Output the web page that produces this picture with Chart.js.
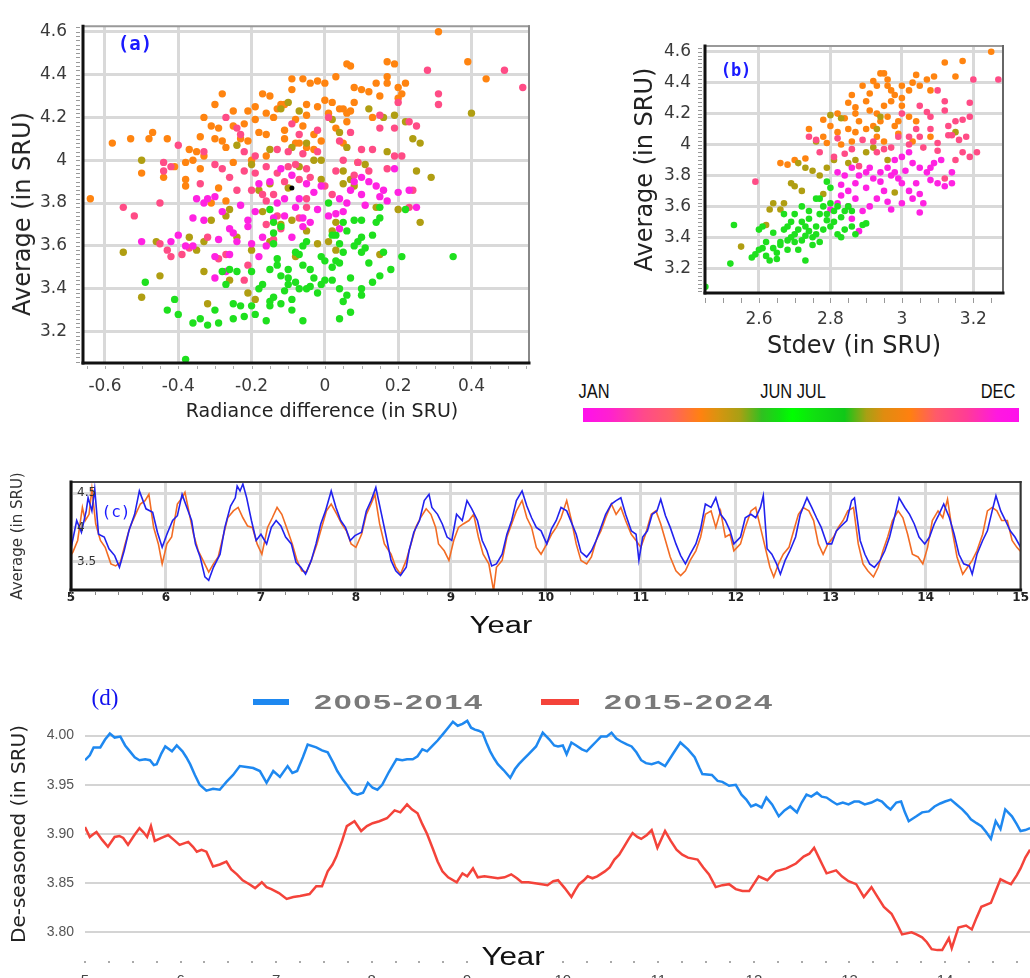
<!DOCTYPE html>
<html>
<head>
<meta charset="utf-8">
<script src="https://cdn.jsdelivr.net/npm/chart.js@4.4.1/dist/chart.umd.min.js"></script>
<style>
  body { margin: 0; background: #fff; width: 1030px; height: 978px; position: relative; overflow: hidden; }
  canvas { position: absolute; }
  .t { position: absolute; white-space: nowrap; line-height: 1; transform: translate(-50%, -50%); }
  .lab { position: absolute; white-space: nowrap; line-height: 1; }
</style>
</head>
<body>
<canvas id="chartA" width="540" height="430" style="left:0;top:0"></canvas>
<canvas id="chartB" width="470" height="365" style="left:560px;top:0"></canvas>
<canvas id="chartC" width="1030" height="185" style="left:0;top:455px"></canvas>
<canvas id="chartD" width="1030" height="318" style="left:0;top:660px"></canvas>

<!-- panel labels, titles, colour bar, legend -->
<div class="t" style="left:135px;top:43px;font:600 19px 'DejaVu Sans Mono';color:#1a1aff">(a)</div>
<div class="t" style="left:736px;top:70px;font:600 17px 'DejaVu Sans Mono';color:#1a1aff">(b)</div>
<div class="t" style="left:116px;top:511px;font:16px 'DejaVu Sans Mono';color:#1a1aff">(c)</div>
<div class="t" style="left:105px;top:698px;font:23px 'Liberation Serif';color:#1111ee">(d)</div>

<div class="t" style="left:22px;top:214px;font:24px 'DejaVu Sans';color:#222;transform:translate(-50%,-50%) rotate(-90deg)">Average (in SRU)</div>
<div class="t" style="left:322px;top:410px;font:19px 'DejaVu Sans';color:#222">Radiance difference (in SRU)</div>

<div class="t" style="left:594px;top:391px;font:20px 'Liberation Sans';color:#111;transform:translate(-50%,-50%) scaleX(0.82)">JAN</div>
<div class="t" style="left:793px;top:391px;font:20px 'Liberation Sans';color:#111;transform:translate(-50%,-50%) scaleX(0.82)">JUN JUL</div>
<div class="t" style="left:998px;top:391px;font:20px 'Liberation Sans';color:#111;transform:translate(-50%,-50%) scaleX(0.82)">DEC</div>
<div style="position:absolute;left:583px;top:408px;width:436px;height:14px;background:linear-gradient(to right,#ff10ec 0%,#ff20d0 6%,#ff4a8a 14%,#ff5f66 20%,#ff8210 27%,#d89410 31%,#a8a014 36%,#30c020 41%,#10e010 45%,#00ff00 48%,#10e010 53%,#10c818 60%,#a8a014 65%,#e08c10 69%,#ff8010 75%,#ff5a6a 81%,#ff3c96 88%,#ff18e0 95%,#ff10ec 100%)"></div>

<div class="t" style="left:501px;top:625px;font:23px 'Liberation Sans';color:#111;transform:translate(-50%,-50%) scaleX(1.35)">Year</div>
<div class="t" style="left:513px;top:956px;font:25px 'Liberation Sans';color:#111;transform:translate(-50%,-50%) scaleX(1.25)">Year</div>

<div style="position:absolute;left:253px;top:699px;width:36px;height:6px;background:#1e88f0"></div>
<div class="lab" style="left:314px;top:691px;font:bold 20px 'Liberation Sans';letter-spacing:1px;color:#7a7a7a;transform-origin:0 50%;transform:scaleX(1.62)">2005-2014</div>
<div style="position:absolute;left:541px;top:699px;width:38px;height:6px;background:#f4433a"></div>
<div class="lab" style="left:604px;top:691px;font:bold 20px 'Liberation Sans';letter-spacing:1px;color:#7a7a7a;transform-origin:0 50%;transform:scaleX(1.62)">2015-2024</div>

<script>
// ---- data ----
// (a) average vs radiance difference, one list per month colour group
const aOrange = [[0.31,4.60],[0.17,4.46],[0.19,4.45],[0.39,4.46],[0.44,4.38],[0.06,4.45],[0.07,4.44],[0.03,4.39],[-0.09,4.38],[-0.06,4.38],[-0.04,4.36],[-0.02,4.37],[0.17,4.39],[0.17,4.36],[0.22,4.36],[0.20,4.34],[0.08,4.34],[0.12,4.32],[0.15,4.30],[0.20,4.29],[-0.17,4.31],[-0.15,4.30],[-0.28,4.31],[0.00,4.28],[0.02,4.27],[0.04,4.24],[0.01,4.22],[-0.02,4.25],[-0.05,4.26],[-0.11,4.26],[-0.13,4.24],[-0.21,4.23],[-0.25,4.23],[-0.30,4.26],[-0.33,4.20],[-0.29,4.15],[-0.31,4.16],[-0.19,4.19],[-0.14,4.20],[-0.08,4.19],[-0.05,4.21],[0.05,4.24],[0.06,4.18],[0.07,4.23],[0.13,4.20],[-0.34,4.11],[-0.30,4.10],[-0.28,4.09],[-0.23,4.10],[-0.21,4.09],[-0.16,4.12],[-0.11,4.10],[-0.08,4.08],[-0.05,4.06],[-0.03,4.05],[0.05,4.08],[-0.58,4.08],[-0.53,4.10],[-0.48,4.10],[-0.47,4.13],[-0.43,4.10],[-0.35,4.04],[-0.33,4.02],[-0.36,4.00],[-0.38,3.99],[-0.41,3.97],[-0.44,3.92],[-0.38,3.88],[-0.38,3.91],[-0.50,3.94],[-0.34,3.96],[-0.25,3.99],[-0.20,4.00],[-0.16,4.02],[-0.29,3.87],[-0.27,3.81],[-0.64,3.82],[-0.11,4.14],[-0.07,4.08],[0.03,4.15],[0.10,4.33],[-0.03,4.12],[-0.31,3.80],[0.09,3.99],[0.06,4.22],[-0.12,4.26],[-0.19,4.25],[-0.25,4.16],[-0.22,4.17],[-0.18,4.13],[-0.06,4.16],[-0.01,4.09],[0.08,4.27],[0.14,4.36],[0.21,4.31],[-0.37,4.05],[-0.27,4.06],[-0.09,4.33],[0.00,4.36],[-0.16,4.22]];
const aPink = [[0.28,4.42],[0.49,4.42],[0.31,4.26],[0.31,4.31],[0.54,4.34],[0.20,4.27],[0.23,4.18],[0.25,4.16],[0.19,4.15],[0.15,4.21],[0.13,4.05],[0.19,4.02],[0.21,4.02],[0.17,3.96],[0.09,3.99],[0.05,4.00],[0.07,4.13],[0.01,4.20],[-0.02,4.14],[-0.07,4.12],[-0.10,4.04],[-0.13,4.05],[-0.19,4.02],[-0.22,4.04],[-0.24,4.15],[-0.27,4.20],[-0.23,4.12],[-0.40,4.07],[-0.44,3.99],[-0.44,3.95],[-0.45,3.80],[-0.42,3.97],[-0.33,4.04],[-0.30,3.98],[-0.28,3.96],[-0.22,3.95],[-0.19,3.94],[-0.13,3.94],[-0.10,3.97],[-0.08,3.98],[-0.05,3.96],[-0.04,3.92],[-0.07,3.91],[-0.11,3.90],[-0.20,3.86],[-0.14,3.84],[-0.16,3.81],[-0.17,3.84],[-0.24,3.86],[-0.05,3.82],[0.00,3.88],[0.02,3.84],[-0.55,3.78],[-0.52,3.74],[-0.45,3.61],[-0.43,3.58],[-0.42,3.55],[-0.39,3.56],[-0.37,3.59],[-0.32,3.64],[-0.29,3.54],[-0.27,3.56],[-0.21,3.51],[-0.22,3.44],[-0.13,3.74],[-0.16,3.70],[-0.07,3.73],[-0.05,3.78],[0.24,3.86],[0.23,3.78],[-0.12,3.68],[-0.14,3.63],[0.03,3.95],[0.08,3.93],[0.12,3.95],[-0.26,3.92],[-0.16,3.97],[-0.02,4.04],[0.04,4.09],[0.10,4.05],[-0.34,3.89],[-0.09,4.17],[-0.06,4.03],[0.15,4.15]];
const aMagenta = [[-0.50,3.62],[-0.42,3.62],[-0.38,3.60],[-0.36,3.60],[-0.35,3.82],[-0.32,3.82],[-0.30,3.83],[-0.33,3.80],[-0.28,3.76],[-0.26,3.68],[-0.29,3.63],[-0.26,3.56],[-0.30,3.55],[-0.30,3.45],[-0.24,3.62],[-0.21,3.69],[-0.21,3.72],[-0.20,3.61],[-0.17,3.64],[-0.14,3.73],[-0.13,3.80],[-0.11,3.82],[-0.08,3.78],[-0.07,3.82],[-0.02,3.77],[-0.04,3.71],[-0.06,3.73],[-0.01,3.88],[0.04,3.82],[0.05,3.76],[0.06,3.80],[0.03,3.75],[0.01,3.74],[0.10,3.92],[0.10,3.84],[0.12,3.90],[0.14,3.88],[0.15,3.83],[0.16,3.86],[0.17,3.81],[0.20,3.85],[0.19,3.96],[0.23,3.86],[0.25,3.78],[-0.18,3.89],[-0.15,3.90],[-0.12,3.96],[-0.09,3.93],[-0.05,3.89],[-0.09,3.64],[-0.06,3.69],[0.04,3.68],[-0.36,3.73],[-0.40,3.65],[-0.27,3.48],[-0.16,3.60],[0.08,3.90],[-0.23,3.79],[-0.19,3.76],[-0.11,3.74],[-0.03,3.85],[0.07,3.86],[-0.25,3.66],[-0.33,3.72],[0.11,3.79],[-0.18,3.55]];
const aOlive = [[0.40,4.22],[0.26,4.08],[0.24,4.10],[0.22,4.18],[0.17,4.04],[0.16,4.20],[0.11,3.98],[0.06,4.06],[0.04,4.13],[0.02,4.19],[-0.01,4.00],[-0.03,4.00],[-0.07,4.23],[-0.10,4.27],[-0.12,4.24],[-0.09,4.06],[-0.05,4.08],[-0.24,4.07],[-0.20,3.98],[-0.15,4.05],[-0.50,4.00],[-0.46,3.62],[-0.55,3.57],[-0.50,3.36],[-0.45,3.46],[-0.37,3.64],[-0.35,3.58],[-0.33,3.62],[-0.31,3.72],[-0.33,3.48],[-0.32,3.33],[-0.26,3.44],[-0.24,3.64],[-0.26,3.77],[-0.27,3.74],[-0.21,3.38],[-0.20,3.58],[-0.15,3.62],[-0.17,3.76],[-0.12,3.70],[-0.09,3.72],[-0.10,3.87],[-0.15,3.89],[-0.05,3.67],[0.02,3.67],[0.01,3.62],[0.03,3.58],[-0.01,3.91],[0.05,3.89],[0.07,3.91],[0.08,3.88],[0.05,3.95],[0.15,3.56],[0.14,3.78],[0.20,3.77],[0.25,3.95],[0.29,3.92],[0.26,3.71],[0.19,4.21],[-0.08,3.55],[-0.18,3.86],[-0.07,3.97],[0.12,4.24],[-0.02,3.61],[0.03,3.71],[-0.19,3.35]];
const aGreen = [[-0.38,3.07],[-0.36,3.24],[-0.34,3.26],[-0.32,3.23],[-0.29,3.24],[-0.25,3.26],[-0.22,3.27],[-0.16,3.25],[-0.09,3.30],[-0.06,3.25],[0.04,3.26],[-0.40,3.28],[-0.43,3.30],[-0.41,3.35],[-0.49,3.43],[-0.25,3.33],[-0.23,3.32],[-0.20,3.32],[-0.15,3.32],[-0.15,3.34],[-0.14,3.36],[-0.12,3.33],[-0.09,3.35],[-0.07,3.40],[-0.08,3.43],[-0.05,3.40],[-0.04,3.41],[-0.01,3.42],[0.00,3.44],[0.02,3.44],[0.04,3.40],[0.06,3.37],[0.05,3.34],[0.10,3.40],[0.10,3.37],[0.13,3.43],[0.15,3.46],[0.18,3.49],[0.21,3.55],[0.35,3.55],[-0.27,3.42],[-0.28,3.48],[-0.26,3.49],[-0.24,3.48],[-0.20,3.48],[-0.17,3.42],[-0.15,3.49],[-0.13,3.51],[-0.12,3.46],[-0.10,3.45],[-0.10,3.49],[-0.06,3.51],[-0.04,3.49],[-0.03,3.45],[0.02,3.50],[0.03,3.53],[-0.01,3.55],[0.00,3.53],[0.04,3.52],[0.05,3.57],[0.10,3.57],[0.11,3.59],[0.13,3.65],[0.10,3.64],[0.09,3.62],[0.04,3.61],[0.03,3.65],[0.06,3.67],[0.05,3.71],[0.08,3.72],[0.14,3.71],[0.15,3.73],[0.15,3.78],[0.10,3.72],[0.22,3.77],[-0.14,3.66],[-0.12,3.69],[-0.14,3.71],[-0.15,3.77],[-0.14,3.61],[-0.13,3.54],[-0.08,3.57],[-0.06,3.60],[-0.05,3.62],[0.01,3.80],[0.02,3.65],[-0.10,3.42],[0.16,3.57],[-0.18,3.40],[-0.11,3.39],[-0.02,3.38],[0.07,3.45],[0.12,3.52],[-0.30,3.30],[-0.19,3.28],[0.08,3.60],[0.07,3.29],[-0.07,3.56]];
const aBlack = [[-0.09,3.87]];

// (b) average vs stdev
const bOrange = [[3.25,4.60],[3.12,4.53],[3.17,4.54],[3.09,4.44],[3.15,4.44],[3.04,4.45],[3.07,4.42],[2.94,4.46],[2.95,4.46],[2.92,4.41],[2.93,4.38],[2.89,4.38],[2.96,4.38],[2.97,4.35],[2.98,4.32],[3.00,4.30],[3.02,4.35],[3.05,4.38],[3.08,4.35],[2.85,4.27],[2.87,4.24],[2.90,4.28],[2.91,4.22],[2.93,4.20],[2.95,4.25],[2.97,4.28],[3.00,4.25],[2.82,4.20],[2.84,4.17],[2.88,4.15],[2.92,4.12],[2.94,4.15],[2.96,4.18],[2.80,4.12],[2.82,4.08],[2.85,4.10],[2.87,4.08],[2.90,4.10],[2.93,4.05],[2.98,4.12],[3.04,4.15],[2.74,4.10],[2.78,4.05],[2.79,4.01],[2.83,4.00],[2.86,4.02],[2.66,3.88],[2.68,3.87],[2.70,3.90],[2.73,3.91],[3.03,4.02],[3.08,4.05],[2.99,4.07],[3.02,4.18],[2.95,4.02],[2.91,4.33],[2.96,4.42],[3.03,4.40],[2.87,4.20],[2.99,4.15],[2.78,4.16],[2.86,4.32],[3.00,4.38]];
const bPink = [[3.20,4.42],[3.27,4.42],[3.10,4.35],[3.12,4.28],[3.19,4.27],[3.12,4.22],[3.15,4.15],[3.17,4.16],[3.19,4.18],[3.05,4.25],[3.07,4.21],[3.04,4.10],[3.08,4.10],[3.13,4.06],[3.14,4.06],[3.16,4.03],[3.10,4.01],[3.00,4.20],[2.99,4.05],[3.02,4.00],[3.06,3.98],[2.89,4.03],[2.86,3.97],[2.84,3.94],[2.81,3.92],[2.77,3.95],[2.74,4.05],[2.76,4.03],[2.82,4.04],[3.17,3.95],[3.21,3.95],[3.19,3.92],[3.15,3.90],[2.59,3.76],[2.93,3.95],[2.97,3.98],[3.02,4.05],[2.88,3.86],[3.12,3.78],[3.13,4.12],[3.08,4.18],[3.05,4.05],[2.95,3.97],[3.10,3.96],[2.92,4.02],[3.18,4.05]];
const bMagenta = [[2.82,3.82],[2.84,3.80],[2.86,3.85],[2.88,3.80],[2.90,3.82],[2.92,3.78],[2.94,3.82],[2.96,3.85],[2.97,3.80],[2.99,3.78],[3.01,3.83],[3.03,3.88],[3.05,3.85],[3.07,3.82],[3.08,3.77],[3.10,3.75],[3.12,3.73],[3.14,3.75],[3.09,3.88],[3.11,3.90],[3.14,3.82],[3.00,3.92],[2.98,3.90],[2.95,3.70],[2.93,3.65],[2.91,3.60],[2.89,3.57],[2.87,3.65],[2.85,3.70],[2.83,3.67],[2.96,3.63],[2.97,3.58],[3.00,3.62],[3.02,3.70],[3.04,3.75],[3.05,3.68],[3.06,3.62],[3.05,3.56],[2.88,3.44],[2.86,3.52],[2.82,3.62],[2.80,3.58],[2.83,3.74],[2.87,3.75],[3.00,3.75],[3.02,3.95],[2.90,3.72],[2.94,3.76],[2.98,3.82],[3.03,3.65],[3.08,3.85],[2.85,3.60],[2.91,3.85]];
const bOlive = [[2.80,4.19],[2.83,4.17],[2.76,4.02],[2.71,3.88],[2.73,3.85],[2.69,3.75],[2.70,3.73],[2.67,3.62],[2.64,3.62],[2.63,3.58],[2.62,3.48],[2.55,3.34],[2.75,3.83],[2.77,3.80],[2.87,3.90],[2.90,3.95],[2.93,4.10],[2.96,3.90],[2.98,3.69],[3.15,4.08],[2.78,3.68],[2.85,3.88],[2.94,4.18],[2.92,3.98],[2.81,3.90],[2.79,3.85],[2.72,3.70],[2.66,3.58]];
const bGreen = [[2.45,3.08],[2.52,3.23],[2.53,3.48],[2.58,3.27],[2.59,3.29],[2.60,3.32],[2.60,3.45],[2.61,3.47],[2.62,3.28],[2.63,3.25],[2.64,3.33],[2.65,3.26],[2.66,3.35],[2.67,3.55],[2.67,3.45],[2.68,3.47],[2.69,3.40],[2.69,3.50],[2.70,3.42],[2.70,3.55],[2.71,3.32],[2.71,3.45],[2.72,3.38],[2.72,3.50],[2.73,3.41],[2.73,3.25],[2.74,3.44],[2.74,3.52],[2.75,3.40],[2.75,3.35],[2.76,3.47],[2.77,3.37],[2.78,3.45],[2.78,3.60],[2.79,3.55],[2.80,3.62],[2.80,3.72],[2.81,3.57],[2.81,3.50],[2.82,3.60],[2.82,3.42],[2.83,3.40],[2.84,3.45],[2.85,3.60],[2.86,3.47],[2.87,3.42],[2.89,3.48],[2.90,3.49],[2.77,3.65],[2.79,3.76],[2.76,3.65],[2.72,3.60],[2.64,3.43],[2.66,3.37],[2.68,3.32],[2.74,3.57],[2.83,3.53],[2.86,3.57],[2.79,3.51],[2.70,3.37],[2.73,3.47],[2.76,3.42],[2.68,3.38],[2.62,3.37],[2.77,3.55],[2.80,3.47],[2.84,3.57],[2.65,3.30],[2.61,3.33]];

// (c) average radiance by year, two decades
const cBlue = [[5.00,3.70],[5.02,3.83],[5.06,4.10],[5.11,3.93],[5.16,4.24],[5.18,4.43],[5.22,4.24],[5.25,4.56],[5.29,3.90],[5.35,3.86],[5.40,3.69],[5.46,3.59],[5.51,3.42],[5.56,3.66],[5.61,3.95],[5.67,4.19],[5.72,4.53],[5.79,4.27],[5.86,4.22],[5.91,3.93],[5.96,3.71],[6.01,3.90],[6.07,4.10],[6.12,4.17],[6.17,4.48],[6.22,4.29],[6.27,4.10],[6.31,3.76],[6.36,3.57],[6.41,3.28],[6.45,3.23],[6.50,3.42],[6.57,3.61],[6.62,4.00],[6.68,4.31],[6.73,4.43],[6.75,4.60],[6.78,4.53],[6.81,4.63],[6.85,4.43],[6.90,4.10],[6.95,3.81],[7.00,3.90],[7.06,3.76],[7.11,4.00],[7.16,4.10],[7.21,4.02],[7.26,3.86],[7.32,3.76],[7.37,3.49],[7.42,3.42],[7.47,3.32],[7.53,3.52],[7.58,3.76],[7.63,4.05],[7.68,4.24],[7.74,4.53],[7.79,4.29],[7.84,4.10],[7.89,4.00],[7.94,3.81],[7.99,3.88],[8.06,3.93],[8.11,4.24],[8.16,4.39],[8.21,4.58],[8.27,4.19],[8.32,3.86],[8.37,3.52],[8.42,3.37],[8.47,3.30],[8.53,3.42],[8.56,3.66],[8.61,3.93],[8.67,4.10],[8.72,4.39],[8.77,4.48],[8.80,4.29],[8.86,4.19],[8.91,4.05],[8.96,3.86],[9.01,3.81],[9.06,4.19],[9.12,4.10],[9.17,4.39],[9.22,4.27],[9.28,4.10],[9.33,3.81],[9.38,3.66],[9.43,3.44],[9.48,3.47],[9.54,3.61],[9.59,3.90],[9.64,4.10],[9.69,4.39],[9.75,4.53],[9.80,4.31],[9.85,4.14],[9.90,4.00],[9.95,3.95],[10.01,3.76],[10.06,3.98],[10.11,4.10],[10.16,4.29],[10.22,4.24],[10.27,4.07],[10.32,3.90],[10.37,3.64],[10.43,3.57],[10.48,3.66],[10.53,3.81],[10.58,4.00],[10.63,4.19],[10.69,4.34],[10.74,4.39],[10.79,4.43],[10.84,4.19],[10.90,3.95],[10.95,3.90],[10.98,3.52],[11.02,3.86],[11.07,3.95],[11.12,4.19],[11.17,4.24],[11.21,4.41],[11.26,4.17],[11.31,4.00],[11.37,3.76],[11.42,3.59],[11.47,3.47],[11.52,3.61],[11.58,3.76],[11.63,3.98],[11.68,4.34],[11.74,4.29],[11.79,4.43],[11.84,4.19],[11.89,4.10],[11.94,3.95],[11.98,3.76],[12.05,3.86],[12.10,4.14],[12.16,4.19],[12.21,4.14],[12.26,4.29],[12.29,4.46],[12.33,3.69],[12.38,3.61],[12.43,3.47],[12.47,3.32],[12.52,3.52],[12.57,3.66],[12.63,3.86],[12.68,4.19],[12.75,4.43],[12.80,4.29],[12.85,4.14],[12.90,4.00],[12.96,3.76],[13.01,3.76],[13.06,3.95],[13.11,4.02],[13.17,4.10],[13.22,4.39],[13.25,4.43],[13.31,3.81],[13.36,3.61],[13.41,3.47],[13.46,3.42],[13.52,3.52],[13.57,3.66],[13.62,3.86],[13.67,4.14],[13.72,4.43],[13.78,4.29],[13.83,4.19],[13.88,4.05],[13.93,3.86],[13.99,3.76],[14.04,3.86],[14.09,4.05],[14.14,4.19],[14.19,4.34],[14.25,4.14],[14.30,3.90],[14.35,3.61],[14.40,3.47],[14.46,3.44],[14.49,3.32],[14.54,3.61],[14.60,3.81],[14.65,3.95],[14.70,4.24],[14.74,4.46],[14.79,4.24],[14.84,4.10],[14.89,3.95],[14.94,3.86],[15.00,3.71]];
const cOrange = [[5.00,3.60],[5.02,3.64],[5.07,3.81],[5.12,4.29],[5.15,4.10],[5.19,4.19],[5.22,4.56],[5.26,4.05],[5.31,3.81],[5.36,3.71],[5.42,3.47],[5.47,3.44],[5.52,3.49],[5.57,3.76],[5.62,4.00],[5.68,4.19],[5.73,4.34],[5.78,4.39],[5.82,4.48],[5.87,4.00],[5.92,3.76],[5.96,3.47],[6.01,3.76],[6.06,3.86],[6.12,4.34],[6.17,4.43],[6.20,4.51],[6.24,4.24],[6.29,3.90],[6.34,3.66],[6.39,3.52],[6.45,3.35],[6.50,3.47],[6.55,3.57],[6.60,3.86],[6.65,4.14],[6.71,4.24],[6.76,4.29],[6.81,4.14],[6.86,4.02],[6.91,4.00],[6.96,3.76],[7.01,3.61],[7.07,4.00],[7.12,4.14],[7.17,4.29],[7.22,4.19],[7.27,4.00],[7.33,3.76],[7.38,3.52],[7.43,3.37],[7.48,3.35],[7.53,3.52],[7.59,3.76],[7.64,4.00],[7.69,4.24],[7.74,4.34],[7.80,4.19],[7.85,4.05],[7.90,3.95],[7.95,3.76],[8.00,3.71],[8.06,3.90],[8.11,4.19],[8.16,4.34],[8.20,4.48],[8.25,4.05],[8.30,3.76],[8.37,3.61],[8.42,3.42],[8.47,3.32],[8.53,3.52],[8.58,3.76],[8.63,4.00],[8.68,4.14],[8.74,4.27],[8.79,4.19],[8.84,4.00],[8.87,3.76],[8.93,3.66],[8.98,3.52],[9.03,3.81],[9.08,4.00],[9.13,4.05],[9.19,4.10],[9.24,4.19],[9.29,3.86],[9.34,3.61],[9.40,3.47],[9.45,3.08],[9.48,3.42],[9.54,3.52],[9.59,3.86],[9.64,4.05],[9.69,4.24],[9.75,4.39],[9.80,4.14],[9.85,4.00],[9.90,3.71],[9.95,3.61],[10.01,3.76],[10.06,3.90],[10.11,4.00],[10.16,4.14],[10.22,4.39],[10.27,4.10],[10.32,3.76],[10.37,3.52],[10.43,3.47],[10.48,3.57],[10.53,3.81],[10.58,3.95],[10.63,4.14],[10.69,4.34],[10.74,4.19],[10.79,4.29],[10.84,4.10],[10.90,3.90],[10.95,3.81],[11.00,3.71],[11.05,3.90],[11.11,4.19],[11.16,4.24],[11.21,4.05],[11.26,3.81],[11.31,3.57],[11.37,3.37],[11.42,3.30],[11.47,3.37],[11.52,3.52],[11.58,3.66],[11.63,3.86],[11.68,4.19],[11.74,4.24],[11.79,4.00],[11.84,4.24],[11.89,3.86],[11.94,3.90],[11.98,3.66],[12.05,3.76],[12.10,4.00],[12.16,4.24],[12.21,4.29],[12.26,4.00],[12.31,3.71],[12.36,3.42],[12.40,3.28],[12.45,3.47],[12.50,3.61],[12.56,3.71],[12.61,3.95],[12.66,4.19],[12.71,4.29],[12.77,4.24],[12.82,4.10],[12.87,3.76],[12.92,3.61],[12.97,3.76],[13.03,3.86],[13.08,4.00],[13.13,4.10],[13.18,4.24],[13.24,4.29],[13.29,3.76],[13.34,3.47],[13.39,3.37],[13.45,3.28],[13.50,3.42],[13.55,3.66],[13.60,3.86],[13.65,4.10],[13.71,4.24],[13.76,4.14],[13.81,3.90],[13.86,3.61],[13.92,3.57],[13.97,3.47],[14.02,3.71],[14.07,4.10],[14.13,4.24],[14.18,4.14],[14.23,4.41],[14.28,3.95],[14.33,3.57],[14.39,3.32],[14.44,3.42],[14.49,3.52],[14.54,3.66],[14.60,3.90],[14.65,4.24],[14.70,4.29],[14.75,4.24],[14.80,4.10],[14.86,4.10],[14.91,3.81],[14.96,3.71],[15.00,3.65]];

// (d) de-seasoned series
const dBlue = [[5.00,3.975],[5.05,3.980],[5.09,3.988],[5.16,3.988],[5.21,3.996],[5.26,4.002],[5.31,3.998],[5.37,3.999],[5.42,3.990],[5.47,3.984],[5.52,3.978],[5.57,3.975],[5.63,3.976],[5.68,3.975],[5.72,3.970],[5.75,3.971],[5.80,3.982],[5.84,3.989],[5.91,3.984],[5.96,3.990],[6.02,3.984],[6.06,3.978],[6.10,3.971],[6.15,3.960],[6.20,3.950],[6.27,3.944],[6.34,3.946],[6.41,3.945],[6.48,3.953],[6.55,3.960],[6.62,3.969],[6.69,3.968],[6.76,3.967],[6.83,3.964],[6.90,3.952],[6.97,3.964],[7.04,3.958],[7.12,3.969],[7.17,3.962],[7.22,3.964],[7.28,3.978],[7.33,3.991],[7.42,3.988],[7.48,3.985],[7.54,3.983],[7.60,3.972],[7.64,3.964],[7.70,3.955],[7.74,3.950],[7.80,3.942],[7.85,3.940],[7.91,3.942],[7.96,3.952],[8.01,3.947],[8.06,3.945],[8.11,3.950],[8.18,3.963],[8.26,3.976],[8.32,3.975],[8.37,3.976],[8.43,3.976],[8.48,3.979],[8.53,3.986],[8.58,3.984],[8.64,3.990],[8.69,3.995],[8.75,4.002],[8.80,4.008],[8.85,4.014],[8.90,4.010],[8.95,4.012],[9.00,4.015],[9.04,4.008],[9.08,4.006],[9.12,4.005],[9.16,4.003],[9.20,3.993],[9.24,3.984],[9.28,3.977],[9.32,3.971],[9.38,3.965],[9.45,3.957],[9.50,3.966],[9.54,3.971],[9.59,3.976],[9.64,3.981],[9.72,3.989],[9.79,4.003],[9.86,3.996],[9.91,3.990],[9.95,3.989],[10.00,3.990],[10.04,3.981],[10.09,3.993],[10.14,3.990],[10.20,3.986],[10.25,3.984],[10.30,3.989],[10.35,3.994],[10.40,3.999],[10.46,3.999],[10.51,4.003],[10.56,3.997],[10.61,3.994],[10.67,3.991],[10.72,3.989],[10.77,3.983],[10.82,3.975],[10.87,3.972],[10.93,3.971],[11.00,3.973],[11.07,3.969],[11.11,3.975],[11.15,3.981],[11.23,3.993],[11.31,3.986],[11.38,3.978],[11.43,3.967],[11.46,3.961],[11.56,3.960],[11.62,3.954],[11.67,3.953],[11.74,3.949],[11.81,3.950],[11.87,3.940],[11.92,3.935],[11.97,3.928],[12.02,3.930],[12.08,3.927],[12.13,3.937],[12.19,3.930],[12.26,3.918],[12.32,3.924],[12.38,3.928],[12.45,3.922],[12.50,3.932],[12.55,3.940],[12.60,3.938],[12.66,3.942],[12.71,3.938],[12.76,3.937],[12.82,3.933],[12.87,3.930],[12.93,3.932],[12.99,3.930],[13.05,3.933],[13.10,3.933],[13.16,3.930],[13.23,3.932],[13.29,3.935],[13.34,3.933],[13.39,3.928],[13.43,3.925],[13.49,3.932],[13.54,3.933],[13.58,3.922],[13.62,3.913],[13.70,3.918],[13.76,3.922],[13.83,3.923],[13.89,3.928],[13.95,3.931],[14.00,3.933],[14.06,3.935],[14.12,3.930],[14.18,3.925],[14.23,3.920],[14.27,3.915],[14.33,3.911],[14.38,3.908],[14.43,3.902],[14.48,3.895],[14.53,3.913],[14.58,3.905],[14.63,3.925],[14.70,3.918],[14.75,3.910],[14.79,3.903],[14.84,3.904],[14.89,3.906]];
const dRed = [[5.00,3.907],[5.05,3.897],[5.09,3.900],[5.12,3.902],[5.18,3.894],[5.24,3.887],[5.31,3.897],[5.36,3.898],[5.40,3.896],[5.45,3.889],[5.51,3.898],[5.57,3.906],[5.61,3.902],[5.65,3.897],[5.69,3.908],[5.73,3.893],[5.80,3.896],[5.87,3.899],[5.93,3.894],[5.99,3.889],[6.08,3.892],[6.13,3.887],[6.17,3.882],[6.22,3.884],[6.27,3.882],[6.34,3.867],[6.41,3.869],[6.48,3.872],[6.53,3.864],[6.59,3.859],[6.65,3.853],[6.72,3.849],[6.78,3.845],[6.85,3.851],[6.90,3.846],[6.95,3.844],[7.03,3.840],[7.11,3.834],[7.18,3.836],[7.25,3.837],[7.35,3.839],[7.42,3.847],[7.48,3.847],[7.54,3.862],[7.59,3.869],[7.63,3.877],[7.69,3.893],[7.74,3.908],[7.82,3.913],[7.89,3.903],[7.95,3.908],[8.01,3.911],[8.08,3.913],[8.16,3.916],[8.24,3.924],[8.30,3.922],[8.37,3.930],[8.42,3.925],[8.48,3.921],[8.53,3.910],[8.58,3.900],[8.64,3.885],[8.69,3.872],[8.74,3.862],[8.80,3.856],[8.89,3.851],[8.95,3.860],[9.00,3.857],[9.06,3.865],[9.11,3.856],[9.18,3.857],[9.25,3.856],[9.32,3.855],[9.39,3.856],[9.46,3.859],[9.52,3.855],[9.57,3.851],[9.64,3.851],[9.71,3.850],[9.78,3.849],[9.84,3.848],[9.90,3.852],[9.95,3.853],[10.02,3.845],[10.09,3.836],[10.13,3.843],[10.17,3.849],[10.22,3.853],[10.26,3.857],[10.31,3.855],[10.36,3.857],[10.44,3.862],[10.49,3.866],[10.54,3.874],[10.59,3.879],[10.64,3.887],[10.69,3.895],[10.73,3.901],[10.78,3.897],[10.82,3.895],[10.88,3.899],[10.93,3.904],[10.99,3.886],[11.07,3.903],[11.13,3.893],[11.19,3.884],[11.25,3.879],[11.31,3.876],[11.36,3.875],[11.41,3.874],[11.47,3.866],[11.53,3.859],[11.60,3.846],[11.67,3.848],[11.74,3.849],[11.81,3.844],[11.88,3.842],[11.95,3.842],[12.05,3.857],[12.14,3.853],[12.23,3.862],[12.34,3.865],[12.44,3.870],[12.52,3.877],[12.58,3.880],[12.63,3.886],[12.68,3.876],[12.72,3.868],[12.76,3.860],[12.86,3.863],[12.92,3.857],[12.99,3.852],[13.07,3.849],[13.15,3.836],[13.23,3.846],[13.30,3.835],[13.36,3.826],[13.44,3.819],[13.50,3.808],[13.55,3.798],[13.65,3.800],[13.70,3.798],[13.76,3.795],[13.81,3.790],[13.86,3.783],[13.92,3.782],[13.97,3.782],[14.04,3.794],[14.07,3.784],[14.14,3.805],[14.22,3.807],[14.28,3.803],[14.33,3.815],[14.38,3.826],[14.48,3.830],[14.53,3.842],[14.58,3.854],[14.64,3.851],[14.69,3.849],[14.75,3.858],[14.79,3.865],[14.84,3.876],[14.89,3.884]];

// tick values
const aXTicks = [-0.6, -0.4, -0.2, 0, 0.2, 0.4];
const abYTicks = [3.2, 3.4, 3.6, 3.8, 4, 4.2, 4.4, 4.6];
const bXTicks = [2.6, 2.8, 3, 3.2];
const cXTicks = [5, 6, 7, 8, 9, 10, 11, 12, 13, 14, 15];
const cYTicks = [3.5, 4, 4.5];
const dXTicks = [5, 6, 7, 8, 9, 10, 11, 12, 13, 14];
const dYTicks = [3.8, 3.85, 3.9, 3.95, 4.0];

// month colours
const colOrange = '#ff8410', colPink = '#ff4c86', colMagenta = '#ff22e2', colOlive = '#b09e12', colGreen = '#1ee01e';

Chart.defaults.font.family = "'DejaVu Sans', sans-serif";
Chart.defaults.color = '#333';
Chart.defaults.animation = false;
Chart.defaults.events = [];
Chart.defaults.plugins.legend.display = false;
Chart.defaults.plugins.tooltip.enabled = false;

// helpers
function fixWidth(w) { return function (s) { s.width = w; }; }
function fixHeight(h) { return function (s) { s.height = h; }; }
function setTicks(list) { return function (s) { s.ticks = list.map(v => ({ value: v })); }; }
function oneDec(v) { return Number(v.toFixed(1)).toString(); }
function dots(data, color, r) {
  return { data: data, backgroundColor: color, borderWidth: 0, pointRadius: r, pointHoverRadius: r };
}

// frame round the plot area
const framePlugin = {
  id: 'frame',
  afterDatasetsDraw(chart, args, o) {
    const ctx = chart.ctx, a = chart.chartArea;
    ctx.save();
    ctx.lineCap = 'square';
    const side = (s, x1, y1, x2, y2) => {
      if (!s) return;
      ctx.strokeStyle = s.color; ctx.lineWidth = s.width;
      ctx.beginPath(); ctx.moveTo(x1, y1); ctx.lineTo(x2, y2); ctx.stroke();
    };
    side(o.top, a.left, a.top, a.right, a.top);
    side(o.right, a.right, a.top, a.right, a.bottom);
    side(o.bottom, a.left, a.bottom, a.right, a.bottom);
    side(o.left, a.left, a.top, a.left, a.bottom);
    ctx.restore();
  }
};

// small unlabelled ticks
const minorPlugin = {
  id: 'minor',
  afterDraw(chart, args, o) {
    const ctx = chart.ctx, a = chart.chartArea;
    ctx.save();
    ['x', 'y'].forEach(id => {
      const m = o[id];
      if (!m) return;
      const s = chart.scales[id];
      const n0 = Math.ceil(s.min / m.step - 1e-6), n1 = Math.floor(s.max / m.step + 1e-6);
      ctx.strokeStyle = m.color; ctx.fillStyle = m.color; ctx.lineWidth = m.width || 1;
      for (let n = n0; n <= n1; n++) {
        const p = Math.round(s.getPixelForValue(n * m.step));
        if (id === 'x') {
          if (m.dot) { ctx.fillRect(p - 1, a.bottom + m.off, 2, 2); continue; }
          ctx.beginPath(); ctx.moveTo(p + 0.5, a.bottom + m.off); ctx.lineTo(p + 0.5, a.bottom + m.off + m.len); ctx.stroke();
        } else {
          ctx.beginPath(); ctx.moveTo(a.left - m.off, p + 0.5); ctx.lineTo(a.left - m.off - m.len, p + 0.5); ctx.stroke();
        }
      }
    });
    ctx.restore();
  }
};

const gridGrey = { color: '#d9d9d9', lineWidth: 3, drawTicks: false };

// (a)
new Chart(document.getElementById('chartA'), {
  type: 'scatter',
  data: { datasets: [
    dots(aBlack, '#000', 2.5), dots(aGreen, colGreen, 3.7), dots(aMagenta, colMagenta, 3.7),
    dots(aPink, colPink, 3.7), dots(aOlive, colOlive, 3.7), dots(aOrange, colOrange, 3.7)
  ] },
  plugins: [framePlugin, minorPlugin],
  options: {
    responsive: false, devicePixelRatio: 1,
    layout: { padding: { top: 17, right: 11, left: 0, bottom: 0 } },
    scales: {
      x: { type: 'linear', min: -0.66, max: 0.557, grid: gridGrey, border: { display: false },
           afterBuildTicks: setTicks(aXTicks), afterFit: fixHeight(67),
           ticks: { padding: 13, font: { size: 17 }, color: '#3a3a3a', callback: oneDec } },
      y: { min: 3.053, max: 4.626, grid: gridGrey, border: { display: false },
           afterBuildTicks: setTicks(abYTicks), afterFit: fixWidth(83),
           ticks: { padding: 16, font: { size: 17 }, color: '#3a3a3a', callback: oneDec } }
    },
    plugins: {
      frame: { left: { color: '#111', width: 3 }, bottom: { color: '#111', width: 3 },
               top: { color: '#999', width: 2 }, right: { color: '#888', width: 2 } },
      minor: { y: { step: 0.02, off: 3, len: 4, color: '#999' }, x: { step: 0.05, off: 3, len: 3, color: '#aaa' } }
    }
  }
});

// (b)
new Chart(document.getElementById('chartB'), {
  type: 'scatter',
  data: { datasets: [
    dots(bGreen, colGreen, 3.3), dots(bMagenta, colMagenta, 3.3), dots(bPink, colPink, 3.3),
    dots(bOlive, colOlive, 3.3), dots(bOrange, colOrange, 3.3)
  ] },
  plugins: [framePlugin, minorPlugin],
  options: {
    responsive: false, devicePixelRatio: 1,
    layout: { padding: { top: 46, right: 27, left: 0, bottom: 0 } },
    scales: {
      x: { type: 'linear', min: 2.449, max: 3.283, grid: gridGrey, border: { display: false },
           afterBuildTicks: setTicks(bXTicks), afterFit: fixHeight(72),
           ticks: { padding: 16, font: { size: 17 }, color: '#3a3a3a', callback: oneDec },
           title: { display: true, text: 'Stdev (in SRU)', font: { size: 24 }, color: '#222', padding: { top: 0, bottom: 4 } } },
      y: { min: 3.04, max: 4.637, grid: gridGrey, border: { display: false },
           afterBuildTicks: setTicks(abYTicks), afterFit: fixWidth(145),
           ticks: { padding: 14, font: { size: 17 }, color: '#3a3a3a', callback: oneDec },
           title: { display: true, text: 'Average (in SRU)', font: { size: 24 }, color: '#222', padding: { top: 71, bottom: 0 } } }
    },
    plugins: {
      frame: { left: { color: '#111', width: 3 }, bottom: { color: '#111', width: 3 },
               top: { color: '#999', width: 2 }, right: { color: '#666', width: 2 } },
      minor: { y: { step: 0.025, off: 3, len: 4, color: '#999' }, x: { step: 0.05, off: 5, len: 5, color: '#999' } }
    }
  }
});

// (c)
new Chart(document.getElementById('chartC'), {
  type: 'line',
  data: { datasets: [
    { data: cBlue, borderColor: '#2222ee', borderWidth: 1.6, pointRadius: 0, tension: 0 },
    { data: cOrange, borderColor: '#f26c24', borderWidth: 1.6, pointRadius: 0, tension: 0 }
  ] },
  plugins: [framePlugin, minorPlugin],
  options: {
    responsive: false, devicePixelRatio: 1,
    layout: { padding: { top: 27, right: 3, left: 0, bottom: 0 } },
    scales: {
      x: { type: 'linear', min: 5, max: 15, grid: gridGrey, border: { display: false },
           afterBuildTicks: setTicks(cXTicks), afterFit: fixHeight(50),
           ticks: { padding: 1, font: { size: 12, weight: 'bold' }, color: '#222', callback: v => String(v) } },
      y: { min: 3.09, max: 4.66, grid: gridGrey, border: { display: false },
           afterBuildTicks: setTicks(cYTicks), afterFit: fixWidth(71),
           ticks: { mirror: true, z: 1, padding: 6, font: { size: 12 }, color: '#333', callback: oneDec },
           title: { display: true, text: 'Average (in SRU)', font: { size: 15 }, color: '#333', padding: { top: 9, bottom: 0 } } }
    },
    plugins: {
      frame: { left: { color: '#111', width: 3 }, bottom: { color: '#111', width: 3 },
               top: { color: '#444', width: 2 }, right: { color: '#333', width: 2 } },
      minor: { x: { step: 0.25, off: 2, len: 3, color: '#888' } }
    }
  }
});

// (d)
new Chart(document.getElementById('chartD'), {
  type: 'line',
  data: { datasets: [
    { data: dBlue, borderColor: '#1e88f0', borderWidth: 2.5, pointRadius: 0, tension: 0 },
    { data: dRed, borderColor: '#f4433a', borderWidth: 2.5, pointRadius: 0, tension: 0 }
  ] },
  plugins: [minorPlugin],
  options: {
    responsive: false, devicePixelRatio: 1,
    layout: { padding: { top: 51, right: 0, left: 0, bottom: 0 } },
    scales: {
      x: { type: 'linear', min: 5, max: 14.889, grid: { display: false }, border: { display: false },
           afterBuildTicks: setTicks(dXTicks), afterFit: fixHeight(21),
           ticks: { padding: 7, font: { family: "'Liberation Sans Narrow', 'Liberation Sans'", size: 15 }, color: '#444', callback: v => String(v) } },
      y: { min: 3.775, max: 4.025, grid: { color: '#d4d4d4', lineWidth: 2, drawTicks: false }, border: { display: false },
           afterBuildTicks: setTicks(dYTicks), afterFit: fixWidth(85),
           ticks: { padding: 11, font: { family: "'Liberation Sans Narrow', 'Liberation Sans'", size: 14 }, color: '#555', callback: v => v.toFixed(2) },
           title: { display: true, text: 'De-seasoned (in SRU)', font: { size: 20 }, color: '#222', padding: { top: 8, bottom: 0 } } }
    },
    plugins: {
      minor: { x: { step: 0.25, off: 4, dot: true, color: '#aaa' } }
    }
  }
});
</script>
</body>
</html>
